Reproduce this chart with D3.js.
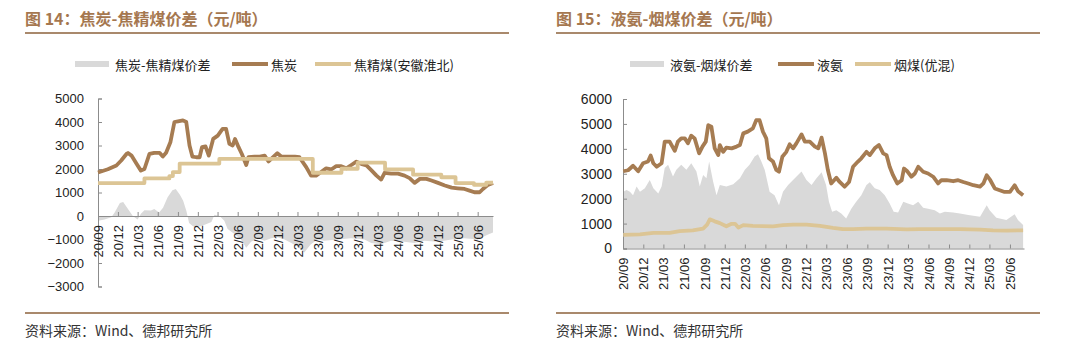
<!DOCTYPE html>
<html><head><meta charset="utf-8">
<script src="https://cdn.jsdelivr.net/npm/d3@7"></script>
<style>
html,body{margin:0;padding:0;background:#fff;}
svg{display:block;}
</style></head>
<body>
<svg id="c" width="1080" height="347"></svg>
<script>
// ---------- Chart 14 data ----------
const titles = ["图 14：焦炭-焦精煤价差（元/吨）", "图 15：液氨-烟煤价差（元/吨）"];
const legend14 = ["焦炭-焦精煤价差", "焦炭", "焦精煤(安徽淮北)"];
const legend15 = ["液氨-烟煤价差", "液氨", "烟煤(优混)"];
const sourceText = "资料来源：Wind、德邦研究所";

const yTicks14 = [-3000, -2000, -1000, 0, 1000, 2000, 3000, 4000, 5000];
const yTicks15 = [0, 1000, 2000, 3000, 4000, 5000, 6000];
const xTickLabels = ["20/09","20/12","21/03","21/06","21/09","21/12","22/03","22/06","22/09","22/12","23/03","23/06","23/09","23/12","24/03","24/06","24/09","24/12","25/03","25/06"];

const cokeDates = ["2020-09-01","2020-10-16","2020-11-24","2020-12-16","2021-01-09","2021-01-16","2021-02-01","2021-02-24","2021-03-16","2021-04-01","2021-04-24","2021-05-16","2021-06-09","2021-06-24","2021-07-09","2021-07-29","2021-08-16","2021-09-01","2021-09-24","2021-10-09","2021-10-24","2021-11-06","2021-11-24","2021-12-09","2021-12-20","2022-01-05","2022-01-20","2022-02-09","2022-03-02","2022-03-24","2022-04-09","2022-04-24","2022-05-09","2022-05-20","2022-06-05","2022-06-20","2022-07-10","2022-07-20","2022-08-17","2022-09-10","2022-10-02","2022-10-20","2022-11-17","2022-11-29","2022-12-17","2023-02-17","2023-03-10","2023-04-10","2023-05-02","2023-05-25","2023-06-17","2023-07-10","2023-08-02","2023-08-25","2023-09-17","2023-10-10","2023-11-02","2023-11-25","2023-12-17","2024-01-10","2024-02-02","2024-02-25","2024-03-17","2024-04-02","2024-05-02","2024-06-02","2024-07-02","2024-07-25","2024-08-17","2024-09-10","2024-10-10","2024-11-02","2024-12-02","2025-01-02","2025-02-02","2025-03-02","2025-04-02","2025-04-25","2025-05-17","2025-06-10","2025-06-25","2025-07-17","2025-08-10"];
const cokeValues = [1850,1990,2150,2360,2640,2680,2570,2220,1930,2000,2640,2690,2690,2530,2690,3150,4000,4030,4070,4000,3000,2530,2500,2500,2930,2960,2570,3280,3420,3710,3710,3070,3000,3280,2930,2640,2170,2500,2530,2530,2570,2320,2570,2670,2530,2530,2500,2080,1720,1720,1870,2030,1980,2120,2120,2030,2170,2310,2220,2150,1940,1720,1550,1840,1800,1800,1720,1610,1410,1580,1580,1510,1410,1300,1210,1180,1150,1080,1010,1010,1150,1320,1410];

const cokingCoalDates = ["2020-09-01","2021-04-01","2021-07-24","2021-08-09","2021-09-09","2022-03-09","2023-05-10","2023-09-18","2023-12-01","2024-04-04","2024-08-10","2024-12-17","2025-02-20","2025-05-15","2025-07-10","2025-08-10"];
const cokingCoalValues = [1400,1600,1700,1870,2230,2430,1840,2010,2270,1980,1760,1650,1400,1330,1420,1420];

const spread14Dates = ["2020-09-01","2020-10-01","2020-11-01","2020-11-16","2020-12-10","2020-12-25","2021-01-16","2021-02-07","2021-03-01","2021-03-16","2021-04-01","2021-05-01","2021-05-16","2021-06-07","2021-06-25","2021-07-16","2021-08-07","2021-08-22","2021-09-10","2021-09-25","2021-10-10","2021-10-22","2021-11-10","2021-12-10","2022-01-07","2022-02-01","2022-02-15","2022-03-10","2022-04-01","2022-04-16","2022-05-16","2022-06-16","2022-07-10","2022-08-01","2022-09-01","2022-10-01","2022-11-01","2022-12-01","2023-01-01","2023-02-01","2023-03-01","2023-04-01","2023-05-01","2023-06-01","2023-07-01","2023-09-01","2023-11-01","2024-01-01","2024-02-01","2024-03-16","2024-05-01","2024-07-01","2024-08-16","2024-10-01","2024-12-01","2025-02-01","2025-04-01","2025-06-01","2025-07-16","2025-08-10"];
const spread14Values = [-200,-150,-50,150,550,600,300,0,-150,100,250,230,300,150,350,800,1100,1150,900,650,200,-300,-450,-450,-350,-250,50,0,-200,-550,-750,-1000,-1350,-1100,-950,-1050,-950,-900,-1000,-1150,-1300,-1550,-1200,-1000,-1050,-1000,-950,-1000,-1150,-1200,-1050,-1100,-1150,-1050,-1100,-1000,-950,-1000,-800,-700];

// ---------- Chart 15 data ----------
const ammoniaDates = ["2020-09-02","2020-09-24","2020-10-16","2020-11-08","2020-11-30","2020-12-22","2021-01-03","2021-01-15","2021-01-30","2021-02-21","2021-03-07","2021-03-29","2021-04-21","2021-05-05","2021-05-20","2021-06-05","2021-06-19","2021-07-04","2021-07-19","2021-08-08","2021-08-23","2021-09-07","2021-09-18","2021-10-02","2021-10-17","2021-11-02","2021-11-09","2021-11-24","2021-12-08","2022-01-01","2022-01-23","2022-02-07","2022-02-22","2022-03-14","2022-04-06","2022-04-21","2022-05-06","2022-05-21","2022-06-05","2022-06-17","2022-07-05","2022-07-20","2022-08-01","2022-08-16","2022-09-03","2022-09-18","2022-10-03","2022-10-18","2022-11-10","2022-11-25","2022-12-17","2023-01-09","2023-01-24","2023-02-08","2023-02-23","2023-03-08","2023-03-23","2023-04-15","2023-04-30","2023-05-22","2023-06-11","2023-06-29","2023-07-21","2023-08-05","2023-08-28","2023-09-12","2023-10-04","2023-10-23","2023-11-11","2023-11-26","2023-12-10","2023-12-25","2024-01-13","2024-02-02","2024-02-12","2024-02-27","2024-03-16","2024-04-01","2024-04-16","2024-05-08","2024-05-30","2024-06-22","2024-07-14","2024-07-29","2024-08-21","2024-09-20","2024-10-12","2024-11-04","2024-11-26","2024-12-19","2025-01-18","2025-02-02","2025-02-17","2025-03-05","2025-03-25","2025-04-16","2025-05-08","2025-06-01","2025-06-22","2025-07-07","2025-07-30"];
const ammoniaValues = [3100,3140,3320,3100,3420,3490,3730,3420,3280,3420,4290,4290,3920,4290,4420,4420,4220,4530,4420,3820,4090,4290,4950,4890,4020,3750,4150,3880,4050,4020,4090,4150,4620,4690,4820,5150,5150,4690,4420,3620,3490,3150,3080,3680,3880,4180,4020,4220,4580,4290,4290,4090,4020,4450,3820,3150,2610,2840,2670,2480,2670,3280,3490,3620,3880,3750,4020,4150,3820,3750,3280,2940,2610,2740,3210,3100,2880,3010,3280,3080,3010,2880,2610,2740,2740,2700,2740,2670,2610,2540,2480,2610,2940,2740,2410,2340,2270,2270,2540,2300,2140];

const coalDates = ["2020-09-02","2020-11-16","2021-01-15","2021-03-29","2021-05-13","2021-07-11","2021-08-26","2021-09-13","2021-09-25","2021-10-17","2021-11-09","2021-12-08","2022-01-01","2022-01-16","2022-01-31","2022-02-22","2022-04-06","2022-07-05","2022-08-19","2022-10-03","2022-12-02","2023-02-01","2023-03-31","2023-05-14","2023-06-29","2023-08-28","2023-11-26","2024-02-24","2024-04-23","2024-07-22","2024-10-20","2025-01-18","2025-03-17","2025-05-16","2025-07-30"];
const coalValues = [550,570,630,630,700,730,800,960,1170,1090,1020,890,990,990,840,940,910,890,940,960,960,910,830,780,780,800,800,770,780,780,780,760,730,720,730];

const spread15Dates = ["2020-09-02","2020-09-17","2020-10-02","2020-10-16","2020-11-01","2020-11-16","2020-12-08","2020-12-30","2021-01-15","2021-02-06","2021-02-21","2021-03-07","2021-03-22","2021-04-13","2021-04-28","2021-05-20","2021-06-12","2021-07-04","2021-07-27","2021-08-11","2021-08-26","2021-09-10","2021-09-22","2021-10-10","2021-10-25","2021-11-09","2021-12-08","2022-01-08","2022-02-07","2022-03-01","2022-03-22","2022-04-14","2022-04-29","2022-05-14","2022-05-29","2022-06-20","2022-07-12","2022-08-01","2022-08-19","2022-09-11","2022-10-03","2022-11-10","2022-12-02","2022-12-25","2023-01-16","2023-02-08","2023-02-28","2023-03-13","2023-03-27","2023-04-15","2023-05-07","2023-05-29","2023-06-21","2023-07-13","2023-08-05","2023-08-28","2023-09-12","2023-10-04","2023-10-26","2023-11-18","2023-12-10","2023-12-28","2024-01-17","2024-02-09","2024-03-01","2024-03-24","2024-04-16","2024-05-08","2024-05-30","2024-06-29","2024-07-22","2024-08-13","2024-09-20","2024-10-20","2024-11-26","2024-12-19","2025-01-18","2025-02-17","2025-03-02","2025-04-01","2025-05-16","2025-06-22","2025-07-07","2025-07-30"];
const spread15Values = [2280,2350,2280,2140,2490,2280,2420,2750,2420,2210,2490,3230,3360,2890,3160,3360,3160,3420,3090,2490,2950,2820,3490,2680,2140,2550,2490,2580,2820,3160,3360,3690,3780,3490,3160,2280,2140,1740,2280,2550,2750,3090,2750,2550,2820,3060,2550,1880,1470,1540,1400,1200,1600,1880,2140,2550,2660,2420,2350,2140,1810,1470,1440,1880,1810,1740,1880,1640,1600,1540,1400,1470,1440,1400,1340,1310,1270,1740,1540,1230,1140,1370,1140,940];

// ---------- styles ----------
const BROWN = "#a67c52", LIGHT = "#dcc595", GRAY = "#d9d9d9", TITLE = "#a5774f", RULE = "#a9896c";
const CJK = "'Noto Sans CJK SC', sans-serif";
const NUM = "'Liberation Sans', Arial, sans-serif";

const parse = d3.timeParse("%Y-%m-%d");
const svg = d3.select("#c");

function series(dates, values) { return dates.map((d, i) => ({ d: parse(d), v: values[i] })); }

function drawPanel(o) {
  const g = svg.append("g");
  // title
  g.append("text").attr("x", o.left).attr("y", 18).attr("dominant-baseline", "central")
    .attr("font-family", CJK).attr("font-weight", "bold").attr("font-size", 16).attr("fill", TITLE).text(o.title);
  g.append("line").attr("x1", o.left).attr("x2", o.left + 484).attr("y1", 33).attr("y2", 33)
    .attr("stroke", RULE).attr("stroke-width", 2);
  // footer
  g.append("line").attr("x1", o.left).attr("x2", o.left + 484).attr("y1", 313).attr("y2", 313)
    .attr("stroke", RULE).attr("stroke-width", 2);
  g.append("text").attr("x", o.left).attr("y", 330).attr("dominant-baseline", "central")
    .attr("font-family", CJK).attr("font-size", 14).attr("fill", "#333").text(sourceText);

  // legend
  const lg = g.append("g").attr("font-family", CJK).attr("font-size", 13).attr("fill", "#222");
  const L = o.legendPos;
  lg.append("rect").attr("x", L[0]).attr("y", 61).attr("width", 34).attr("height", 6).attr("fill", GRAY);
  lg.append("text").attr("x", L[0] + 40).attr("y", 64).attr("dominant-baseline", "central").text(o.legend[0]);
  lg.append("line").attr("x1", L[1]).attr("x2", L[1] + 36).attr("y1", 64).attr("y2", 64).attr("stroke", BROWN).attr("stroke-width", 4);
  lg.append("text").attr("x", L[1] + 39).attr("y", 64).attr("dominant-baseline", "central").text(o.legend[1]);
  lg.append("line").attr("x1", L[2]).attr("x2", L[2] + 36).attr("y1", 64).attr("y2", 64).attr("stroke", LIGHT).attr("stroke-width", 4);
  lg.append("text").attr("x", L[2] + 39).attr("y", 64).attr("dominant-baseline", "central").text(o.legend[2]);

  const x = d3.scaleTime().domain([parse("2020-09-01"), parse(o.endDate)]).range(o.xRange);
  const y = d3.scaleLinear().domain(o.yDomain).range(o.yRange);

  const area = d3.area().x(p => x(p.d)).y0(y(0)).y1(p => y(p.v));
  g.append("path").datum(o.spread).attr("d", area).attr("fill", GRAY);

  // y axis
  const ya = g.append("g").attr("transform", `translate(${o.xRange[0]},0)`)
    .call(d3.axisLeft(y).tickValues(o.yTicks).tickSize(-4).tickPadding(o.yPad).tickFormat(d3.format("d")));
  ya.select(".domain").attr("stroke", "#8c8c8c");
  ya.selectAll(".tick line").attr("stroke", "#8c8c8c");
  ya.selectAll("text").attr("font-family", NUM).attr("font-size", o.yFont).attr("fill", "#222");

  // x axis
  const tickDates = xTickLabels.map(s => parse("20" + s.slice(0, 2) + "-" + s.slice(3) + "-01"));
  const xa = g.append("g").attr("transform", `translate(0,${y(0)})`)
    .call(d3.axisBottom(x).tickValues(tickDates).tickSize(-4).tickSizeOuter(0).tickFormat((d, i) => xTickLabels[i]));
  xa.select(".domain").attr("stroke", "#8c8c8c");
  xa.selectAll(".tick line").attr("stroke", "#8c8c8c");
  xa.selectAll("text").attr("font-family", NUM).attr("font-size", o.xFont).attr("fill", "#222")
    .attr("transform", "rotate(-90)").attr("text-anchor", "end").attr("x", -9).attr("y", 0).attr("dy", "0.35em");

  const line = d3.line().x(p => x(p.d)).y(p => y(p.v));
  o.lines.forEach(l => {
    g.append("path").datum(l.data).attr("d", line.curve(l.curve || d3.curveLinear)).attr("fill", "none")
      .attr("stroke", l.color).attr("stroke-width", 3.8).attr("stroke-linejoin", "round");
  });
}

drawPanel({
  left: 25, title: titles[0], legend: legend14, legendPos: [75, 232, 315],
  endDate: "2025-08-10", xRange: [98, 493], yDomain: [-3000, 5000], yRange: [286.5, 98.5],
  yTicks: yTicks14, yPad: 14, yFont: 13, xFont: 13,
  spread: series(spread14Dates, spread14Values),
  lines: [
    { data: series(cokeDates, cokeValues), color: BROWN },
    { data: series(cokingCoalDates, cokingCoalValues), color: LIGHT, curve: d3.curveStepAfter }
  ]
});

drawPanel({
  left: 556, title: titles[1], legend: legend15, legendPos: [630, 778, 855],
  endDate: "2025-08-03", xRange: [623, 1024], yDomain: [0, 6000], yRange: [248.5, 99],
  yTicks: yTicks15, yPad: 11, yFont: 14, xFont: 13,
  spread: series(spread15Dates, spread15Values),
  lines: [
    { data: series(ammoniaDates, ammoniaValues), color: BROWN },
    { data: series(coalDates, coalValues), color: LIGHT }
  ]
});
</script>
</body></html>
